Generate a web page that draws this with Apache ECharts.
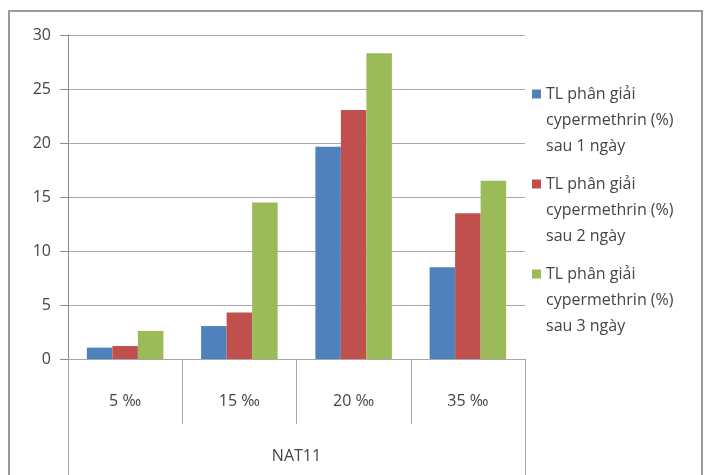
<!DOCTYPE html>
<html>
<head>
<meta charset="utf-8">
<script src="https://cdn.jsdelivr.net/npm/echarts@6/dist/echarts.min.js"></script>
<style>
  html, body { margin: 0; padding: 0; background: #ffffff; }
  #chart { width: 704px; height: 475px; }
</style>
</head>
<body>
<div id="chart"></div>
<script>
// Salinity levels tested for strain NAT11
const categories = ['5 \u2030', '15 \u2030', '20 \u2030', '35 \u2030'];
const groupLabel = ['NAT11'];

// Cypermethrin degradation rate (%) after 1, 2 and 3 days
const seriesNames = [
  'TL phân giải cypermethrin (%) sau 1 ngày',
  'TL phân giải cypermethrin (%) sau 2 ngày',
  'TL phân giải cypermethrin (%) sau 3 ngày'
];
const day1 = [1.05, 3.05, 19.65, 8.5];
const day2 = [1.2, 4.3, 23.05, 13.5];
const day3 = [2.6, 14.5, 28.3, 16.5];

const yTicks = { min: 0, max: 30, interval: 5 };

const colors = ['#4F81BD', '#C0504D', '#9BBB59'];
const textColor = '#454545';
const gridLine = '#a8a8a8';
const fontFamily = '"Open Sans", Lato, sans-serif';
const fontSize = 16;

const chart = echarts.init(document.getElementById('chart'));

// Legend labels wrap onto three lines; two leading blank lines keep the
// swatch level with the first line (legend text is centred on the swatch).
function wrapLegend(name) {
  return '\n\n' + name.replace(' cypermethrin', '\ncypermethrin').replace(' sau', '\nsau');
}

const seriesData = [day1, day2, day3];

chart.setOption({
  animation: false,
  backgroundColor: '#ffffff',
  color: colors,
  graphic: [{
    type: 'rect',
    shape: { x: 9, y: 11, width: 693, height: 480 },
    style: { fill: 'none', stroke: '#9a9a9a', lineWidth: 2 },
    silent: true,
    z: 0
  }],
  grid: { left: 68, right: 179, top: 35, bottom: 116, containLabel: false },
  legend: {
    orient: 'vertical',
    left: 532,
    top: 29,
    padding: 0,
    itemWidth: 9,
    itemHeight: 9,
    itemGap: -40,
    icon: 'rect',
    formatter: wrapLegend,
    textStyle: {
      color: textColor,
      fontSize: fontSize,
      fontFamily: fontFamily,
      lineHeight: 26
    },
    data: seriesNames
  },
  xAxis: [{
    type: 'category',
    data: categories,
    position: 'bottom',
    axisLine: { show: true, lineStyle: { color: gridLine, width: 1 } },
    axisTick: { show: true, interval: 0, length: 65, lineStyle: { color: gridLine } },
    axisLabel: {
      interval: 0,
      margin: 34,
      color: textColor,
      fontSize: fontSize,
      fontFamily: fontFamily
    },
    splitLine: { show: false }
  }, {
    type: 'category',
    data: groupLabel,
    position: 'bottom',
    offset: 64,
    axisLine: { show: false },
    axisTick: { show: true, length: 60, lineStyle: { color: gridLine } },
    axisLabel: {
      margin: 25,
      color: textColor,
      fontSize: fontSize,
      fontFamily: fontFamily
    },
    splitLine: { show: false }
  }],
  yAxis: {
    type: 'value',
    min: yTicks.min,
    max: yTicks.max,
    interval: yTicks.interval,
    axisLine: { show: true, lineStyle: { color: '#8c8c8c' } },
    axisTick: { show: true, length: 8, lineStyle: { color: '#8c8c8c' } },
    axisLabel: {
      margin: 17,
      color: textColor,
      fontSize: fontSize,
      fontFamily: fontFamily
    },
    splitLine: { show: true, lineStyle: { color: gridLine, width: 1 } }
  },
  series: seriesNames.map((name, i) => ({
    name: name,
    type: 'bar',
    xAxisIndex: 0,
    data: seriesData[i],
    barGap: '0%',
    barCategoryGap: '33%',
    itemStyle: { color: colors[i] }
  }))
});
</script>
</body>
</html>
